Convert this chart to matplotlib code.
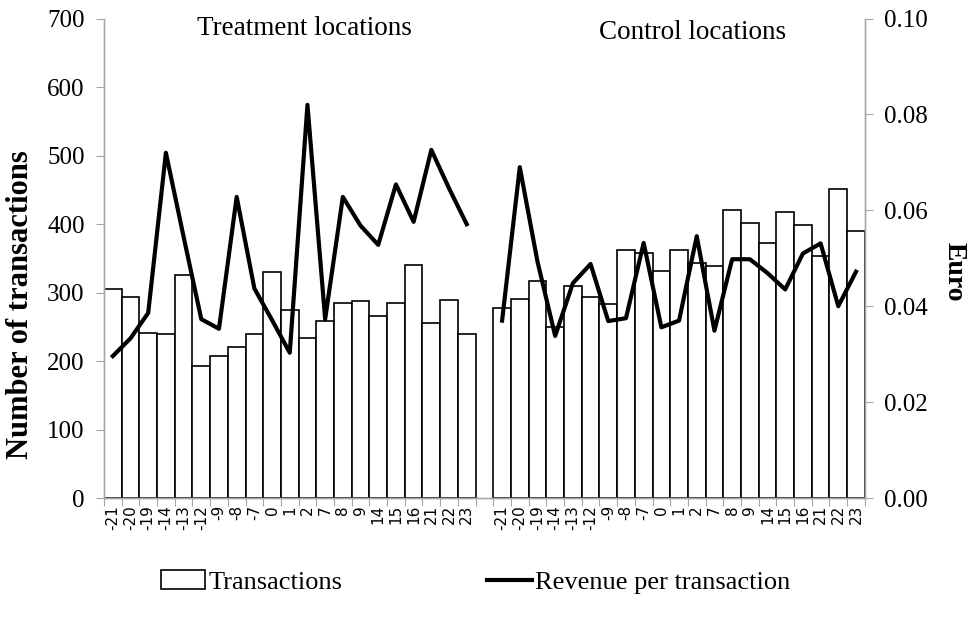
import numpy as np
import matplotlib
matplotlib.use("Agg")
import matplotlib.pyplot as plt


# ============================================
# Data
# ============================================

periods = ["-21", "-20", "-19", "-14", "-13", "-12", "-9", "-8", "-7", "0",
           "1", "2", "7", "8", "9", "14", "15", "16", "21", "22", "23"]

treatment_tx = [305, 294, 241, 239, 326, 192, 207, 221, 240, 330,
                275, 233, 259, 284, 287, 265, 284, 340, 256, 289, 240]
control_tx = [278, 290, 317, 249, 310, 294, 283, 362, 358, 331,
              362, 343, 338, 420, 402, 373, 418, 398, 354, 451, 390]

treatment_rev = [0.0296, 0.0333, 0.0386, 0.0720, 0.0545, 0.0373, 0.0353,
                 0.0628, 0.0437, 0.0371, 0.0303, 0.0820, 0.0373, 0.0628,
                 0.0568, 0.0528, 0.0654, 0.0576, 0.0726, 0.0646, 0.0571]
control_rev = [0.0370, 0.0690, 0.0493, 0.0338, 0.0448, 0.0488, 0.0369,
               0.0375, 0.0532, 0.0356, 0.0370, 0.0546, 0.0349, 0.0498,
               0.0498, 0.0469, 0.0435, 0.0510, 0.0531, 0.0400, 0.0472]


# ============================================
# Combined category axis (blank slot between groups)
# ============================================

labels = periods + [""] + periods
tx = treatment_tx + [np.nan] + control_tx
rev = treatment_rev + [np.nan] + control_rev
x = np.arange(len(labels))

serif = "Liberation Serif"
grey = "#a6a6a6"

fig = plt.figure(figsize=(9.78, 6.28), dpi=100)
ax = fig.add_axes([0.1063, 0.207, 0.778, 0.7635])

bars = ax.bar(x, tx, width=1.0, color="white", edgecolor="black",
              linewidth=1.2, label="Transactions")

ax.set_xlim(-0.5, len(labels) - 0.5)
ax.set_ylim(0, 700)
ax.set_yticks(range(0, 701, 100))

ax2 = ax.twinx()
line, = ax2.plot(x, rev, color="black", linewidth=3.0,
                 label="Revenue per transaction")
ax2.set_ylim(0, 0.10)
ax2.set_yticks(np.arange(0, 0.101, 0.02))
ax2.set_yticklabels([f"{v:.2f}" for v in np.arange(0, 0.101, 0.02)])

# x ticks: marks at category boundaries, labels at centres
ax.set_xticks(np.arange(-0.5, len(labels), 1.0))
ax.set_xticklabels([])
ax.set_xticks(x, minor=True)
ax.set_xticklabels(labels, minor=True, rotation=90,
                   family="DejaVu Sans", fontsize=11)
ax.tick_params(axis="x", which="major", length=6, color=grey, direction="out")
ax.tick_params(axis="x", which="minor", length=0, pad=5)

for a in (ax, ax2):
    a.spines["top"].set_visible(False)
    for s in ("left", "right", "bottom"):
        a.spines[s].set_color(grey)
        a.spines[s].set_linewidth(1.0)

ax.tick_params(axis="y", length=6, color=grey, labelsize=18, pad=8)
ax2.tick_params(axis="y", length=6, color=grey, labelsize=18, pad=8)
for t in ax.get_yticklabels() + ax2.get_yticklabels():
    t.set_family(serif)

ax.set_ylabel("Number of transactions", family=serif, fontweight="bold",
              fontsize=22)
ax.yaxis.set_label_coords(-0.091, 0.4025)
ax2.set_ylabel("Euro", family=serif, fontweight="bold", fontsize=20,
               rotation=270, labelpad=28)
ax2.yaxis.label.set_y(0.471)

# group titles
ax.text(0.264, 0.98, "Treatment locations", transform=ax.transAxes,
        ha="center", va="center", family=serif, fontsize=19.5)
ax.text(0.773, 0.97, "Control locations", transform=ax.transAxes,
        ha="center", va="center", family=serif, fontsize=19.5)

# ============================================
# Legend at the bottom
# ============================================

fig.legend(handles=[bars, line], loc="center", bbox_to_anchor=(0.486, 0.073),
           ncol=2, frameon=False, prop={"family": serif, "size": 19},
           handlelength=1.7, handletextpad=0.1, columnspacing=5.5)

fig.savefig("out.png", dpi=100)
